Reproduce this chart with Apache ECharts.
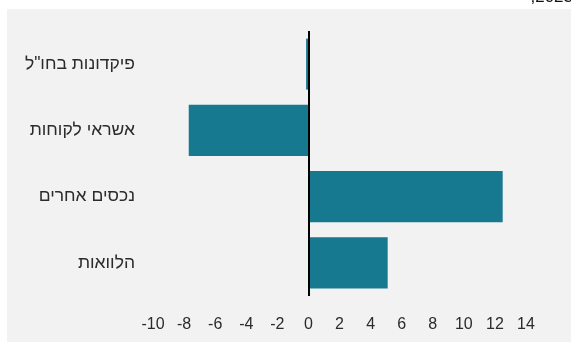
<!DOCTYPE html>
<html>
<head>
<meta charset="utf-8">
<style>
  html, body { margin: 0; padding: 0; background: #ffffff; }
  #chart { width: 571px; height: 342px; }
</style>
<script src="https://cdn.jsdelivr.net/npm/echarts@6/dist/echarts.min.js"></script>
</head>
<body>
<div id="chart"></div>
<script>
// Categories, top to bottom
const categories = ['פיקדונות בחו"ל', 'אשראי לקוחות', 'נכסים אחרים', 'הלוואות'];
// Change values per category
const values = [-0.15, -7.7, 12.5, 5.1];
// X axis range and step
const xMin = -10;
const xMax = 14;
const xStep = 2;

const barColor = '#17798f';
const textColor = '#2b2b2b';
const fontFamily = '"Liberation Sans", "DejaVu Sans", sans-serif';

const chart = echarts.init(document.getElementById('chart'), null, { renderer: 'canvas' });

chart.setOption({
  backgroundColor: '#ffffff',
  animation: false,
  graphic: [
    {
      type: 'rect',
      z: -10,
      shape: { x: 7, y: 9, width: 564, height: 333 },
      style: { fill: '#f2f2f2' },
      silent: true
    },
    {
      type: 'text',
      z: 10,
      x: 573,
      y: 6,
      style: {
        text: ',2023',
        fill: '#111111',
        font: '17px ' + fontFamily,
        textAlign: 'right',
        textVerticalAlign: 'bottom'
      },
      silent: true
    }
  ],
  grid: {
    left: 153,
    right: 45,
    top: 31,
    bottom: 46,
    containLabel: false
  },
  xAxis: {
    type: 'value',
    min: xMin,
    max: xMax,
    interval: xStep,
    axisLine: { show: false },
    axisTick: { show: false },
    splitLine: { show: false },
    axisLabel: {
      color: textColor,
      fontSize: 16,
      fontFamily: fontFamily,
      margin: 21
    }
  },
  yAxis: {
    type: 'category',
    data: categories,
    inverse: true,
    axisLine: { show: false },
    axisTick: { show: false },
    splitLine: { show: false },
    axisLabel: {
      color: textColor,
      fontSize: 17.5,
      fontFamily: fontFamily,
      margin: 18
    }
  },
  series: [
    {
      type: 'bar',
      data: values,
      barCategoryGap: '23%',
      itemStyle: { color: barColor },
      markLine: {
        silent: true,
        symbol: 'none',
        label: { show: false },
        lineStyle: { color: '#000000', width: 2, type: 'solid' },
        data: [{ xAxis: 0 }]
      }
    }
  ]
});
</script>
</body>
</html>
